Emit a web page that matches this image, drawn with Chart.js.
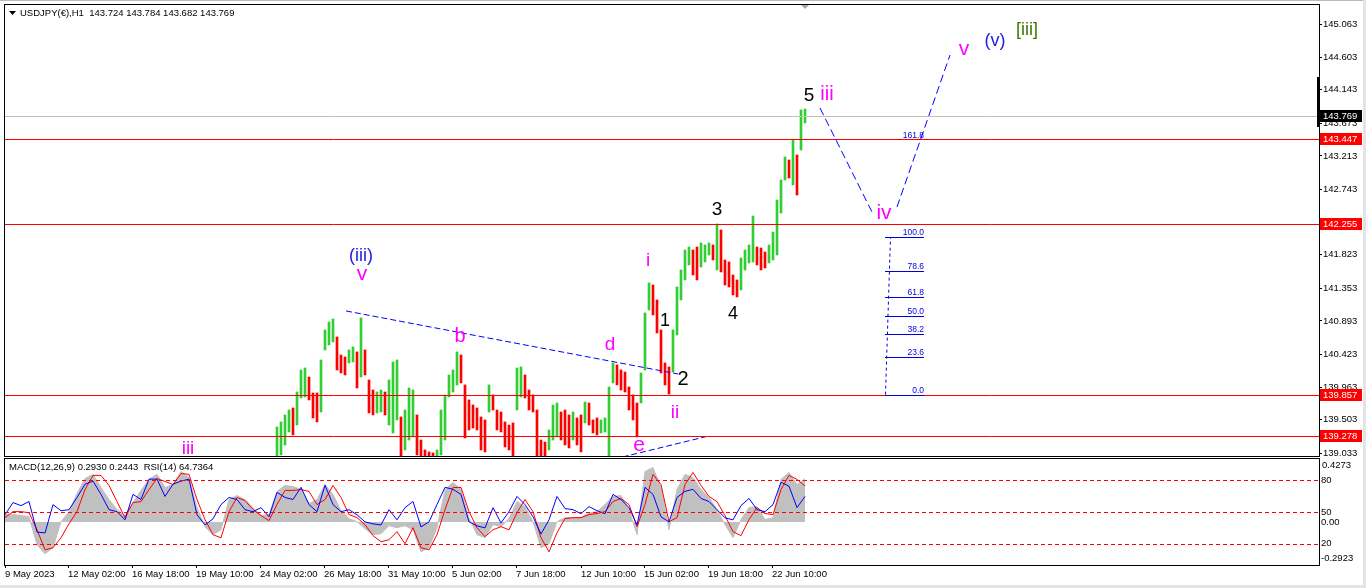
<!DOCTYPE html>
<html lang="en">
<head>
<meta charset="UTF-8">
<title>USDJPY H1</title>
<script src="https://cdn.jsdelivr.net/npm/chart.js@4.4.0/dist/chart.umd.min.js"></script>
<style>
    html, body { margin: 0; padding: 0; background: #fff; }
    body { width: 1366px; height: 588px; position: relative; overflow: hidden; }
    #priceChart { position: absolute; left: 0; top: 0; }
    #indChart { position: absolute; left: 0; top: 458px; }
    .edgeTop { position: absolute; left: 0; top: 0; width: 1366px; height: 1px; background: #b9b9b9; }
    .edgeRight { position: absolute; right: 0; top: 0; width: 3px; height: 588px; background: #e4e4e4; }
    .edgeBottom { position: absolute; left: 0; bottom: 0; width: 1366px; height: 3px; background: #e4e4e4; }
</style>
</head>
<body>
<canvas id="priceChart" width="1366" height="458"></canvas>
<canvas id="indChart" width="1366" height="130"></canvas>
<div class="edgeTop"></div><div class="edgeRight"></div><div class="edgeBottom"></div>
<script>
    // x unit = one H1 bar (one pixel in the original terminal)
    const barStart = 272;
    const barStep = 4;
    const highs = [
        139.402, 139.473, 139.571, 139.641, 139.669, 139.894, 140.203, 140.232, 140.105, 139.880,
        139.880, 140.344, 140.766, 140.878, 140.920, 140.667, 140.414, 140.386, 140.485, 140.527,
        140.457, 140.935, 140.485, 140.063, 139.922, 139.894, 139.922, 139.894, 140.063, 140.316,
        140.344, 139.543, 139.641, 139.950, 139.922, 139.571, 139.219, 139.079, 139.051, 139.037,
        139.079, 139.641, 139.852, 140.133, 140.203, 140.457, 140.414, 139.993, 139.782, 139.711,
        139.669, 139.543, 139.501, 139.993, 139.852, 139.641, 139.613, 139.473, 139.430, 139.459,
        140.232, 140.246, 140.133, 139.922, 139.852, 139.641, 139.219, 139.190, 139.360, 139.711,
        139.739, 139.613, 139.641, 139.571, 139.613, 139.529, 139.571, 139.753, 139.739, 139.501,
        139.529, 139.501, 139.529, 139.964, 140.302, 140.274, 140.203, 140.175, 139.964, 139.852,
        139.739, 140.161, 141.005, 141.427, 141.398, 141.188, 140.766, 140.302, 140.246, 140.766,
        141.370, 141.609, 141.890, 141.932, 141.890, 141.932, 141.989, 141.961, 141.989, 141.961,
        142.256, 142.172, 141.750, 141.722, 141.539, 141.469, 141.778, 141.890, 141.961, 142.368,
        141.932, 141.918, 141.862, 141.961, 142.143, 142.593, 142.874, 143.198, 143.155, 143.437,
        143.226, 143.858, 143.872
    ];
    const lows = [
        138.900, 139.009, 139.149, 139.332, 139.290, 139.430, 139.810, 139.824, 139.782, 139.529,
        139.473, 139.613, 140.485, 140.555, 140.597, 140.203, 140.161, 140.133, 140.302, 140.316,
        139.950, 140.105, 140.133, 139.599, 139.571, 139.599, 139.613, 139.571, 139.430, 139.318,
        139.501, 138.980, 139.079, 139.219, 139.262, 139.009, 138.850, 138.850, 138.850, 138.850,
        138.850, 139.009, 139.219, 139.824, 139.894, 139.993, 140.021, 139.248, 139.360, 139.388,
        139.360, 139.079, 139.051, 139.613, 139.641, 139.360, 139.332, 139.121, 139.079, 138.900,
        139.641, 139.824, 139.810, 139.641, 139.613, 138.900, 138.900, 138.900, 139.079, 139.219,
        139.262, 139.219, 139.149, 139.107, 139.219, 139.149, 139.051, 139.459, 139.430, 139.318,
        139.290, 139.318, 139.332, 138.900, 140.021, 139.993, 139.922, 139.894, 139.641, 139.501,
        139.262, 139.739, 140.203, 141.047, 140.977, 140.723, 140.161, 139.993, 139.866, 140.175,
        140.696, 141.188, 141.469, 141.680, 141.539, 141.469, 141.651, 141.722, 141.820, 141.750,
        141.609, 141.581, 141.398, 141.370, 141.258, 141.230, 141.328, 141.609, 141.708, 141.722,
        141.680, 141.609, 141.637, 141.708, 141.750, 141.820, 142.410, 142.874, 142.902, 142.804,
        142.663, 143.296, 143.676
    ];

    const indStep = 8;
    const rsi = [
        47.4, 58.9, 56.0, 59.9, 31.1, 30.2, 57.0, 51.2, 52.2, 63.7,
        76.2, 79.1, 66.6, 52.2, 50.3, 42.6, 66.6, 61.8, 81.0, 81.0,
        64.7, 76.2, 79.1, 81.0, 47.4, 37.8, 43.6, 57.0, 63.7, 61.8,
        52.2, 50.3, 54.1, 45.5, 68.5, 63.7, 61.8, 73.3, 57.0, 50.3,
        75.2, 57.0, 50.3, 52.2, 47.4, 40.7, 38.8, 37.8, 52.2, 42.6,
        54.1, 59.9, 35.9, 40.7, 57.0, 73.3, 71.4, 66.6, 40.7, 36.9,
        35.0, 54.1, 39.7, 50.3, 64.7, 57.0, 45.5, 29.2, 42.6, 64.7,
        53.2, 52.2, 48.4, 55.1, 51.2, 48.4, 66.6, 61.8, 54.1, 37.8,
        73.3, 66.6, 45.5, 40.7, 63.7, 69.5, 71.4, 62.8, 59.9, 52.2,
        44.5, 42.6, 56.0, 62.8, 52.2, 50.3, 57.0, 78.1, 74.3, 54.1,
        64.7
    ];
    const macdSignal = [
        0.029, 0.070, 0.070, 0.063, -0.053, -0.189, -0.175, -0.107, -0.012, 0.070,
        0.220, 0.316, 0.316, 0.248, 0.138, 0.029, 0.132, 0.138, 0.220, 0.295,
        0.275, 0.254, 0.329, 0.323, 0.152, 0.016, -0.087, -0.107, 0.070, 0.166,
        0.145, 0.084, 0.043, 0.009, 0.118, 0.214, 0.214, 0.220, 0.207, 0.118,
        0.152, 0.248, 0.166, 0.050, 0.029, -0.018, -0.093, -0.134, -0.121, -0.066,
        -0.148, -0.039, -0.175, -0.189, -0.087, 0.084, 0.234, 0.234, 0.070, -0.039,
        -0.100, -0.053, -0.032, -0.053, 0.063, 0.152, 0.070, -0.107, -0.203, -0.073,
        0.023, 0.029, 0.029, 0.050, 0.057, 0.070, 0.138, 0.159, 0.118, -0.032,
        0.118, 0.323, 0.254, 0.002, 0.029, 0.254, 0.336, 0.248, 0.173, 0.138,
        0.043, -0.066, -0.093, 0.016, 0.098, 0.057, 0.050, 0.220, 0.316, 0.289,
        0.244
    ];
    const macdHist = [
        0.050, 0.050, 0.043, 0.036, -0.155, -0.216, -0.175, 0.002, 0.070, 0.193,
        0.295, 0.323, 0.234, 0.152, 0.084, 0.043, 0.132, 0.214, 0.289, 0.323,
        0.234, 0.254, 0.343, 0.302, 0.098, -0.032, -0.087, -0.053, 0.152, 0.179,
        0.152, 0.098, 0.043, 0.050, 0.207, 0.248, 0.241, 0.220, 0.125, 0.152,
        0.254, 0.186, 0.077, 0.023, 0.002, -0.046, -0.087, -0.080, -0.025, -0.039,
        -0.025, -0.053, -0.203, -0.175, -0.039, 0.220, 0.268, 0.220, 0.029, -0.087,
        -0.107, -0.018, -0.032, 0.023, 0.138, 0.104, 0.002, -0.175, -0.148, 0.002,
        0.029, 0.029, 0.029, 0.063, 0.070, 0.118, 0.173, 0.179, 0.084, -0.087,
        0.343, 0.370, 0.234, -0.053, 0.220, 0.323, 0.302, 0.220, 0.166, 0.084,
        -0.018, -0.107, 0.016, 0.098, 0.104, 0.016, 0.029, 0.289, 0.336, 0.254,
        0.293
    ];

    const priceTicks = [145.063, 144.603, 144.143, 143.673, 143.213, 142.743, 142.283,
        141.823, 141.353, 140.893, 140.423, 139.963, 139.503, 139.033];
    const timeTicks = [0, 63, 127, 191, 255, 319, 383, 447, 511, 576, 639, 703, 767];
    const timeLabels = ['9 May 2023', '12 May 02:00', '16 May 18:00', '19 May 10:00', '24 May 02:00',
        '26 May 18:00', '31 May 10:00', '5 Jun 02:00', '7 Jun 18:00', '12 Jun 10:00',
        '15 Jun 02:00', '19 Jun 18:00', '22 Jun 10:00'];

    const redLevels = [143.447, 142.255, 139.857, 139.278];
    const bidPrice = 143.769;
    const fibLevels = [0, 23.6, 38.2, 50, 61.8, 78.6, 100, 161.8];
    const fibLow = 139.857, fibHigh = 142.073;

    // drawn lines [bar, price]
    const triangleTop = [[341, 141.033], [673, 140.147]];
    const triangleBottom = [[600, 138.92], [705, 139.28]];
    const projDown = [[815, 143.886], [867, 142.424]];
    const projUp = [[892, 142.495], [945, 144.631]];

    // wave labels: text, bar, price, colour key, size
    const waveLabels = [
        ['(iii)', 356, 141.792, 'b', 18], ['v', 357, 141.539, 'm', 21],
        ['b', 455, 140.695, 'm', 20], ['d', 605, 140.569, 'm', 19],
        ['e', 634, 139.135, 'm', 21], ['iii', 183, 139.107, 'm', 19],
        ['i', 643, 141.750, 'm', 19], ['ii', 670, 139.613, 'm', 19],
        ['1', 660, 140.906, 'k', 18], ['2', 678, 140.091, 'k', 20],
        ['3', 712, 142.467, 'k', 19], ['4', 728, 141.005, 'k', 18],
        ['5', 804, 144.069, 'k', 19], ['iii', 822, 144.097, 'm', 20],
        ['iv', 879, 142.425, 'm', 21], ['v', 959, 144.702, 'm', 21],
        ['(v)', 990, 144.814, 'b', 18], ['[iii]', 1022, 144.969, 'g', 18]
    ];
    const labelColors = { m: '#ff00ff', b: '#2020e8', k: '#000000', g: '#3a7a00' };

    const FONT = 'Liberation Sans, Arial, sans-serif';
    const GREEN = '#32cd32', RED = '#ff0000';

    const barColors = highs.map(function (h, i) {
        if (i == 0) return GREEN;
        return (h + lows[i]) >= (highs[i - 1] + lows[i - 1]) ? GREEN : RED;
    });

    function pts(arr) {
        return arr.map(p => ({ x: p[0], y: p[1] }));
    }

    function centeredText(ctx, text, cx, cy) {
        const m = ctx.measureText(text);
        ctx.fillText(text, cx, cy + (m.actualBoundingBoxAscent - m.actualBoundingBoxDescent) / 2);
    }

    function hline(ctx, x1, x2, y) {
        const yy = Math.round(y) + 0.5;
        ctx.beginPath();
        ctx.moveTo(x1, yy);
        ctx.lineTo(x2, yy);
        ctx.stroke();
    }

    const mainDecor = {
        id: 'mainDecor',
        afterDatasetsDraw(chart) {
            const { ctx, chartArea: a, scales: { x, y } } = chart;
            ctx.save();
            ctx.beginPath();
            ctx.rect(a.left, a.top, a.right - a.left, a.bottom - a.top);
            ctx.clip();
            ctx.lineWidth = 1;

            ctx.strokeStyle = '#c0c0c0';
            hline(ctx, a.left, a.right, y.getPixelForValue(bidPrice));

            ctx.strokeStyle = RED;
            redLevels.forEach(p => hline(ctx, a.left, a.right, y.getPixelForValue(p)));

            // fibonacci
            ctx.strokeStyle = '#0000dd';
            ctx.fillStyle = '#0000dd';
            ctx.font = '8.5px ' + FONT;
            ctx.textAlign = 'right';
            ctx.textBaseline = 'alphabetic';
            const fx1 = x.getPixelForValue(880), fx2 = x.getPixelForValue(919);
            fibLevels.forEach(function (lv) {
                const py = y.getPixelForValue(fibLow + (fibHigh - fibLow) * lv / 100);
                if (lv <= 100) hline(ctx, fx1, fx2, py);
                ctx.fillText(lv.toFixed(1), fx2, Math.round(py) - 2);
            });
            ctx.setLineDash([3, 3]);
            ctx.beginPath();
            ctx.moveTo(fx1 + 0.5, y.getPixelForValue(fibLow));
            ctx.lineTo(x.getPixelForValue(885) + 0.5, y.getPixelForValue(fibHigh));
            ctx.stroke();
            ctx.setLineDash([]);

            // wave counts
            ctx.textAlign = 'center';
            waveLabels.forEach(function (w) {
                ctx.font = w[4] + 'px ' + FONT;
                ctx.fillStyle = labelColors[w[3]];
                centeredText(ctx, w[0], x.getPixelForValue(w[1]), y.getPixelForValue(w[2]));
            });
            ctx.restore();
        },
        afterDraw(chart) {
            const { ctx, scales: { x, y } } = chart;
            ctx.save();
            ctx.strokeStyle = '#000';
            ctx.lineWidth = 1;
            ctx.strokeRect(4.5, 4.5, 1315, 452);

            // header
            ctx.fillStyle = '#000';
            ctx.beginPath();
            ctx.moveTo(9, 11); ctx.lineTo(16, 11); ctx.lineTo(12.5, 15); ctx.closePath();
            ctx.fill();
            ctx.font = '9.5px ' + FONT;
            ctx.textAlign = 'left';
            ctx.textBaseline = 'middle';
            ctx.fillText('USDJPY(€),H1  143.724 143.784 143.682 143.769', 20, 13);

            // chart shift marker
            const sx = x.getPixelForValue(800);
            ctx.fillStyle = '#a8a8a8';
            ctx.beginPath();
            ctx.moveTo(sx - 4, 5); ctx.lineTo(sx + 4, 5); ctx.lineTo(sx, 9); ctx.closePath();
            ctx.fill();

            // range bar on the scale
            const t1 = y.getPixelForValue(144.322), t2 = y.getPixelForValue(143.619);
            ctx.fillStyle = '#000';
            ctx.fillRect(1317, t1, 3, t2 - t1);

            // price tags
            function tag(p, bg) {
                const py = Math.round(y.getPixelForValue(p));
                ctx.fillStyle = bg;
                ctx.fillRect(1320, py - 6, 42, 12);
                ctx.fillStyle = '#fff';
                ctx.fillText(p.toFixed(3), 1323, py + 0.5);
            }
            redLevels.forEach(p => tag(p, RED));
            tag(bidPrice, '#000');
            ctx.restore();
        }
    };

    new Chart(document.getElementById('priceChart'), {
        type: 'bar',
        data: {
            datasets: [
                {
                    type: 'bar',
                    data: highs.map((h, i) => ({ x: barStart + i * barStep, y: [lows[i], h] })),
                    backgroundColor: barColors,
                    borderWidth: 0,
                    barThickness: 2,
                    grouped: false,
                    clip: 0,
                    order: 2
                },
                { type: 'line', data: pts(triangleTop), borderColor: '#0000ff', borderWidth: 1, borderDash: [6, 3], pointRadius: 0, clip: 0, order: 1 },
                { type: 'line', data: pts(triangleBottom), borderColor: '#0000ff', borderWidth: 1, borderDash: [6, 3], pointRadius: 0, clip: 0, order: 1 },
                { type: 'line', data: pts(projDown), borderColor: '#0000ff', borderWidth: 1, borderDash: [8, 4], pointRadius: 0, clip: 0, order: 1 },
                { type: 'line', data: pts(projUp), borderColor: '#0000ff', borderWidth: 1, borderDash: [8, 4], pointRadius: 0, clip: 0, order: 1 }
            ]
        },
        options: {
            responsive: false,
            animation: false,
            events: [],
            layout: { padding: { left: 5, right: 0, top: 5, bottom: 2 } },
            plugins: { legend: { display: false }, tooltip: { enabled: false } },
            scales: {
                x: { type: 'linear', min: 0, max: 1314, offset: false, display: false },
                y: {
                    position: 'right',
                    min: 138.994,
                    max: 145.334,
                    afterBuildTicks: s => { s.ticks = priceTicks.map(v => ({ value: v })); },
                    afterFit: s => { s.width = 47; s.paddingTop = 0; s.paddingBottom = 0; },
                    grid: { drawOnChartArea: false, tickLength: 3, color: '#000' },
                    border: { display: false },
                    ticks: {
                        padding: 1,
                        color: '#000',
                        font: { family: FONT, size: 9.5 },
                        callback: v => v.toFixed(3)
                    }
                }
            }
        },
        plugins: [mainDecor]
    });

    const indDecor = {
        id: 'indDecor',
        afterDatasetsDraw(chart) {
            const { ctx, chartArea: a, scales: { yR } } = chart;
            ctx.save();
            ctx.strokeStyle = RED;
            ctx.lineWidth = 1;
            ctx.setLineDash([4, 3]);
            [80, 50, 20].forEach(v => hline(ctx, a.left, a.right, yR.getPixelForValue(v)));
            ctx.restore();
        },
        afterDraw(chart) {
            const { ctx, scales: { yR, yM } } = chart;
            ctx.save();
            ctx.strokeStyle = '#000';
            ctx.lineWidth = 1;
            ctx.strokeRect(4.5, 0.5, 1315, 107);
            ctx.fillStyle = '#000';
            ctx.font = '9.5px ' + FONT;
            ctx.textAlign = 'left';
            ctx.textBaseline = 'middle';
            ctx.fillText('MACD(12,26,9) 0.2930 0.2443  RSI(14) 64.7364', 9, 9.5);
            ctx.fillText('0.4273', 1322, yM.getPixelForValue(0.4273) + 6);
            ctx.fillText('-0.2923', 1321, yM.getPixelForValue(-0.2923) - 7);
            ctx.fillText('0.00', 1321, yM.getPixelForValue(0));
            [80, 50, 20].forEach(v => ctx.fillText(String(v), 1321, yR.getPixelForValue(v)));
            ctx.restore();
        }
    };

    new Chart(document.getElementById('indChart'), {
        type: 'line',
        data: {
            datasets: [
                {
                    data: macdHist.map((v, i) => ({ x: i * indStep, y: v })),
                    yAxisID: 'yM',
                    borderColor: '#c0c0c0',
                    backgroundColor: '#c0c0c0',
                    borderWidth: 1,
                    fill: 'origin',
                    pointRadius: 0,
                    order: 3
                },
                {
                    data: macdSignal.map((v, i) => ({ x: i * indStep, y: v })),
                    yAxisID: 'yM',
                    borderColor: '#ff0000',
                    borderWidth: 1,
                    pointRadius: 0,
                    order: 2
                },
                {
                    data: rsi.map((v, i) => ({ x: i * indStep, y: v })),
                    yAxisID: 'yR',
                    borderColor: '#0000ff',
                    borderWidth: 1,
                    pointRadius: 0,
                    order: 1
                }
            ]
        },
        options: {
            responsive: false,
            animation: false,
            events: [],
            layout: { padding: { left: 5, right: 47, top: 1, bottom: 0 } },
            plugins: { legend: { display: false }, tooltip: { enabled: false } },
            scales: {
                x: {
                    type: 'linear',
                    min: 0,
                    max: 1314,
                    offset: false,
                    afterBuildTicks: s => { s.ticks = timeTicks.map(v => ({ value: v })); },
                    afterFit: s => { s.height = 23; s.paddingLeft = 0; s.paddingRight = 0; },
                    grid: { drawOnChartArea: false, tickLength: 3, color: '#000' },
                    border: { display: false },
                    ticks: {
                        autoSkip: false,
                        maxRotation: 0,
                        align: 'start',
                        padding: 1,
                        color: '#000',
                        font: { family: FONT, size: 9.5 },
                        callback: (v, i) => timeLabels[i]
                    }
                },
                yM: { position: 'right', min: -0.2923, max: 0.4273, display: false },
                yR: { position: 'right', min: 0, max: 100, display: false }
            }
        },
        plugins: [indDecor]
    });
</script>
</body>
</html>
